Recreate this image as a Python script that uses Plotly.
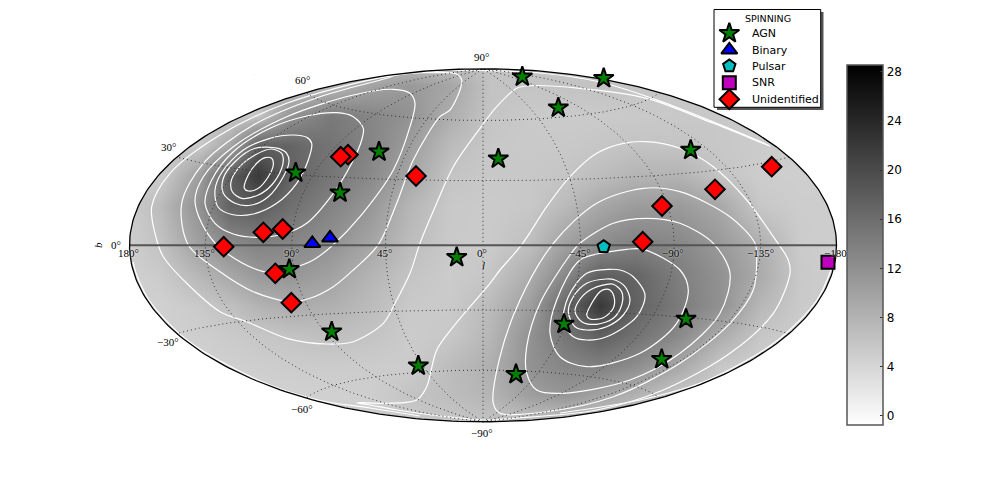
import numpy as np
import plotly.graph_objects as go

# Sources, in the plane of the sky map (axis units of the projected map)
agn_x = [522.3, 603.7, 558.3, 498.3, 690.7, 379, 295.7, 340, 456.7, 289.3, 331.7, 418.3, 516, 564, 686, 661.7]
agn_y = [76.7, 78.3, 107.7, 158.7, 150, 151.7, 172.7, 192.7, 257.3, 269.3, 331.7, 365.7, 374.3, 324, 319, 359.3]
binary_x = [330, 312.3]
binary_y = [238, 243.5]
pulsar_x = [603.7]
pulsar_y = [246.7]
snr_x = [828]
snr_y = [262.3]
unid_x = [348, 340.7, 416, 263.3, 282.7, 223.7, 275.3, 291.3, 771.7, 715, 662, 642.7]
unid_y = [154.7, 156.7, 176, 232.3, 229, 246.7, 273.3, 302.7, 166.7, 189.3, 206, 241.7]

legend_title = "SPINNING"
legend_names = ["AGN", "Binary", "Pulsar", "SNR", "Unidentified"]
legend_rows = [33.3, 50, 66, 82.7, 99.3]

# Background field table
field_x = [120, 160, 200, 230, 258, 290, 330, 370, 410, 450, 490, 530, 565, 600, 635, 680, 720, 760, 800, 840]
field_y = [60, 85, 115, 145, 175, 205, 245, 275, 305, 335, 365, 395, 425]
row_60 = [5, 5, 5, 5, 5.2, 5.4, 5.6, 5.8, 6, 6.1, 6.1, 6, 5.9, 5.7, 5.5, 5.3, 5, 5, 5, 5]
row_85 = [4.6, 4.8, 5, 5.2, 5.5, 6, 7, 9.8, 11, 9.5, 6.2, 6, 6.2, 6.2, 5.9, 5.6, 5.3, 5, 5, 5]
row_115 = [4.5, 4.8, 5, 5.3, 5.9, 11.5, 14.6, 13.2, 11.7, 8.6, 6, 5.4, 5.2, 5.3, 5.4, 5.5, 5.6, 5, 5, 5]
row_145 = [4.5, 4.8, 5.5, 9.5, 17.6, 17, 15.2, 13.4, 10.5, 7, 5.6, 5.4, 5.5, 5.8, 6.1, 6, 5.6, 5.2, 5, 5]
row_175 = [4.5, 5, 10.5, 17.8, 22, 17.3, 15, 12.8, 9.5, 6, 5.5, 5.6, 5.9, 6.8, 7.8, 7.9, 6, 5, 4.8, 4.8]
row_205 = [4.5, 7, 12, 17.3, 18, 15.8, 13.5, 11.3, 7.6, 5.5, 5.3, 5.6, 7.1, 9.3, 10.6, 10.7, 9.2, 5.6, 5, 5]
row_245 = [4.5, 6.2, 10.2, 12.2, 13.4, 13, 11.7, 9.5, 6.8, 5.4, 5.3, 6.7, 10.2, 12.5, 13.8, 13, 11, 8.5, 5.2, 4.8]
row_275 = [4.5, 5.2, 7.6, 9.3, 10.9, 11.3, 10, 7.8, 6, 5.2, 5.8, 8.7, 12.9, 17.6, 17, 14, 11.8, 8.9, 5.5, 4.8]
row_305 = [4.5, 4.6, 5.4, 6.5, 7.9, 8.8, 8.4, 7, 5.4, 5.3, 7.1, 10.4, 16.6, 22, 17.4, 14.3, 11.9, 7.5, 5.3, 5]
row_335 = [4.5, 4.5, 4.9, 5.3, 5.7, 6.1, 6.6, 6.1, 5.2, 5.6, 7.6, 11.8, 15, 17.5, 15.5, 12.6, 8.8, 5.7, 5, 5]
row_365 = [4.5, 4.5, 4.5, 4.7, 4.9, 5.1, 5.2, 5.1, 5.1, 6.9, 8.4, 11.8, 13.2, 13.8, 12.3, 9.2, 5.6, 4.8, 4.8, 4.8]
row_395 = [4.5, 4.5, 4.5, 4.5, 4.5, 4.5, 4.6, 4.8, 6.1, 6.8, 7.8, 10.3, 11.3, 9.6, 8, 5.3, 4.6, 4.6, 4.6, 4.6]
row_425 = [4.5, 4.5, 4.5, 4.5, 4.5, 4.5, 4.6, 4.8, 5.2, 5.5, 5.8, 5.5, 5.3, 5, 4.8, 4.6, 4.6, 4.6, 4.6, 4.6]
field_z = [row_60, row_85, row_115, row_145, row_175, row_205, row_245, row_275, row_305, row_335, row_365, row_395, row_425]

# White contour lines
contours = [
    [(271.7,158.3),(265,157.7),(256.7,163.3),(248.3,175),(244.3,188.3),(248.3,191),(258.3,188.3),(268.3,176.7),(273.3,165),(271.7,158.3)],
    [(281.7,153.3),(271.7,149),(255,155),(238.3,168.3),(231,181.7),(232.3,191.7),(241.7,198.3),(258.3,195),(271.7,185),(281.7,168.3),(283.3,158.3),(281.7,153.3)],
    [(286.7,153.3),(278.3,148.3),(255,148.3),(235,161.7),(223.3,178.3),(223.3,193.3),(235,203.3),(251.7,205),(268.3,196.7),(283.3,176.7),(289,161.7),(286.7,153.3)],
    [(311.7,143.3),(306.7,137.3),(293.3,135),(270,138.3),(243.3,150),(222,172),(215,190),(218,207),(232,214.5),(253.3,214),(276.7,203.3),(296.7,183.3),(308.3,160),(311.7,143.3)],
    [(363.3,128.3),(353.3,116.7),(336.7,112.7),(306.7,116),(270,128.3),(233.3,151.7),(211.7,180),(205,203.3),(215,223.3),(233.3,234),(256.7,237.3),(283.3,234),(306.7,223.3),(333.3,193.3),(351.7,163.3),(361.7,140),(363.3,128.3)],
    [(415,103.3),(410,93.3),(393.3,89.3),(353.3,95),(286.7,116.7),(233.3,146.7),(203.3,176.7),(195,200),(201.7,223.3),(216.7,245),(226.7,253.3),(253.3,268.3),(275,273.3),(290,269.3),(313.3,260),(333.3,244.7),(360,216.7),(393.3,170),(410,126.7),(415,103.3)],
    [(461.7,80),(456.7,74),(433.3,72.7),(400,74),(386.7,78.3),(320,96.7),(253.3,125),(203.3,163.3),(181.7,203.3),(188.3,245),(220,271.7),(253.3,291.7),(290,301.7),(310,298.3),(333.3,286.7),(353.3,270),(378.3,244.7),(396.7,203.3),(413.3,160),(440,116.7),(450,110),(460,90),(461.7,80)],
    [(770,146),(713.3,123.3),(646.7,98.3),(580,88.3),(530,85.7),(516.7,88.3),(496.7,106.7),(480,128.3),(453.3,166.7),(436.7,203.3),(420,243.3),(410,273.3),(395,303.3),(383.3,323.3),(353.3,341.7),(326.7,344),(286.7,338.3),(246.7,321.7),(220,311.7),(186.7,283.3),(163.3,256.7),(156.7,240),(151.7,206.7),(170,173.3),(220,135),(286.7,103.3),(386.7,76.7),(453,70.5),(483,70.5),(540,73),(600,82),(660,101),(713,121.8),(770,146)],
    [(605,289.3),(600,291.7),(591.7,303.3),(586.7,315),(590,319),(603.3,317.7),(613.3,308.3),(614,296.7),(610,290),(605,289.3)],
    [(606.7,284.3),(590,290),(578.3,301.7),(575,311.7),(581.7,321.7),(596.7,324.3),(613.3,318.3),(621.7,305),(621.7,291.7),(613.3,284.3),(606.7,284.3)],
    [(606.7,279),(586.7,283.3),(573.3,296.7),(568.3,311.7),(575,326.7),(586.7,330),(606.7,326.7),(623.3,315),(630,300),(625,286.7),(615,280),(606.7,279)],
    [(610,269.3),(586.7,273.3),(568.3,296.7),(563.3,323.3),(573.3,336.7),(586.7,340),(606.7,336.7),(636.7,316.7),(645,295),(633.3,276.7),(620,270),(610,269.3)],
    [(643.3,249.3),(680,270),(688.3,290),(676.7,323.3),(640,353.3),(586.7,366.7),(560,356.7),(550,333.3),(556.7,300),(580,260),(610,251.7),(626.7,249.3),(643.3,249.3)],
    [(580,243.3),(613.3,223.3),(646.7,218.3),(680,223.3),(713.3,243.3),(730,273.3),(720,313.3),(680,353.3),(630,380),(563.3,393.3),(536.7,390),(526.7,373.3),(526.7,346.7),(540,303.3),(570,255),(580,243.3)],
    [(553.3,243.3),(596.7,203.3),(643.3,188.3),(680,191.7),(730,216.7),(755,243.3),(756.7,260),(753.3,290),(730,323.3),(680,363.3),(613.3,396.7),(546.7,411.7),(500,413.3),(493.3,403.3),(500,356.7),(520,300),(553.3,243.3)],
    [(356.7,402.7),(386.7,403.3),(416.7,400),(426.7,386.7),(436.7,350),(453.3,326.7),(490,283.3),(500,270),(521.7,244.7),(546.7,206.7),(570,176.7),(596.7,153.3),(623.3,143.3),(646.7,141.7),(680,148.3),(713.3,166.7),(746.7,200),(773.3,236.7),(788.3,260),(790,273.3),(773.3,313.3),(730,353.3),(663.3,390),(596.7,410),(513.3,418.3),(483,420),(440,416),(397,410),(370,405),(356.7,402.7)],
    [(133,262),(136,273),(149,300),(187,340),(258,380),(318,400),(370,408),(420,416)],
    [(831,270),(817,300),(778,340),(708,380),(640,400),(560,413)],
]

lon_ticks = [135, 90, 45, 0, -45, -90, -135]
lat_ticks = [60, 30, -30, -60]
lon_label_pos = [(128, 253, "180°"), (204, 253, "135°"), (291, 253, "90°"), (384, 253, "45°"), (482, 253, "0°"),
                 (580, 253, "−45°"), (673, 253, "−90°"), (760, 253, "−135°"), (835, 253, "−180")]
lat_label_pos = [(481, 57, "90°"), (302, 80, "60°"), (168, 147, "30°"), (116, 245, "0°"),
                 (168, 342, "−30°"), (302, 409, "−60°"), (482, 433, "−90°")]

CX, CY, HW, HH = 483.0, 245.3, 353.5, 176.5

def hammer(lon, lat):
    lam, phi = np.radians(lon), np.radians(lat)
    d = np.sqrt(1 + np.cos(phi) * np.cos(lam / 2))
    return CX - HW * np.cos(phi) * np.sin(lam / 2) / d, CY - HH * np.sin(phi) / d

fig = go.Figure()
fig.add_trace(go.Heatmap(
    x=field_x, y=field_y, z=field_z, zsmooth="best", zmin=-0.77, zmax=28.57,
    colorscale=[[0, "#ffffff"], [1, "#000000"]], hoverinfo="skip",
    colorbar=dict(x=847 / 981, xanchor="left", xpad=0, y=1 - 245 / 491, yanchor="middle", ypad=0,
                  thickness=36, thicknessmode="pixels", len=360, lenmode="pixels",
                  tick0=0, dtick=4, ticks="inside", ticklen=3, tickcolor="#333", tickwidth=1,
                  outlinecolor="#555", outlinewidth=1.5,
                  tickfont=dict(family="DejaVu Sans", size=12, color="black")),
))

# white mask outside the map
t = np.linspace(0, 2 * np.pi, 361)
ex = CX + HW * np.cos(t)
ey = CY + HH * np.sin(t)
fig.add_trace(go.Scatter(
    x=[0, 981, 981, 0, 0, float(ex[0])] + ex[::-1].tolist() + [0],
    y=[0, 0, 491, 491, 0, float(ey[0])] + ey[::-1].tolist() + [0],
    mode="lines", fill="toself", fillcolor="white", line=dict(width=0, color="white"),
    showlegend=False, hoverinfo="skip"))

# contours
for c in contours:
    fig.add_trace(go.Scatter(x=[p[0] for p in c], y=[p[1] for p in c], mode="lines",
                             line=dict(color="white", width=1.2, shape="spline", smoothing=0.9),
                             showlegend=False, hoverinfo="skip"))

# graticule
gx, gy = [], []
for lon in lon_ticks:
    la = np.linspace(-90, 90, 181)
    px, py = hammer(lon, la)
    gx += px.tolist() + [None]
    gy += py.tolist() + [None]
for lat in lat_ticks:
    lo = np.linspace(-180, 180, 181)
    px, py = hammer(lo, lat)
    gx += px.tolist() + [None]
    gy += py.tolist() + [None]
fig.add_trace(go.Scatter(x=gx, y=gy, mode="lines", line=dict(color="#333", width=1, dash="1px,3px"),
                         showlegend=False, hoverinfo="skip"))
# equator and boundary
fig.add_trace(go.Scatter(x=[CX - HW, CX + HW], y=[CY, CY], mode="lines", line=dict(color="#555", width=2),
                         showlegend=False, hoverinfo="skip"))
fig.add_trace(go.Scatter(x=ex, y=ey, mode="lines", line=dict(color="black", width=1.3),
                         showlegend=False, hoverinfo="skip"))

styles = {
    "AGN": ("star", "#008000", 15),
    "Binary": ("triangle-up", "#0000ff", 14),
    "Pulsar": ("pentagon", "#00bfbf", 13),
    "SNR": ("square", "#bf00bf", 13),
    "Unidentified": ("diamond", "#ff0000", 15),
}

def source(name, x, y):
    symbol, color, size = styles[name]
    fig.add_trace(go.Scatter(x=x, y=y, mode="markers", name=name, cliponaxis=False, showlegend=False,
                             marker=dict(symbol=symbol, color=color, size=size, line=dict(color="black", width=2))))

source("AGN", agn_x, agn_y)
source("Binary", binary_x, binary_y)
source("Pulsar", pulsar_x, pulsar_y)
source("SNR", snr_x, snr_y)
source("Unidentified", unid_x, unid_y)

# legend panel
fig.add_trace(go.Scatter(x=[717, 823.5, 823.5, 717, 717], y=[12, 12, 110, 110, 12], mode="lines", fill="toself",
                         fillcolor="#555", line=dict(width=0), showlegend=False, hoverinfo="skip"))
fig.add_trace(go.Scatter(x=[714, 820.7, 820.7, 714, 714], y=[9.5, 9.5, 107.3, 107.3, 9.5], mode="lines", fill="toself",
                         fillcolor="white", line=dict(color="black", width=1), showlegend=False, hoverinfo="skip"))
for name, row in zip(legend_names, legend_rows):
    symbol, color, size = styles[name]
    fig.add_trace(go.Scatter(x=[729.3], y=[row], mode="markers", name=name, showlegend=False, hoverinfo="skip",
                             marker=dict(symbol=symbol, color=color, size=size, line=dict(color="black", width=2))))

annotations = []
for x, y, s in lon_label_pos + lat_label_pos:
    annotations.append(dict(x=x, y=y, text=s, showarrow=False, xref="x", yref="y",
                            font=dict(family="Liberation Serif", size=11, color="black", shadow="0 0 2px white")))
annotations.append(dict(x=483, y=265, text="<i>l</i>", showarrow=False,
                        font=dict(family="Liberation Serif", size=11, color="black", shadow="0 0 2px white")))
annotations.append(dict(x=98, y=245, text="<i>b</i>", showarrow=False, textangle=-90,
                        font=dict(family="Liberation Serif", size=11, color="black")))
annotations.append(dict(x=768, y=18, text=legend_title, showarrow=False,
                        font=dict(family="DejaVu Sans", size=9.5, color="black")))
for name, row in zip(legend_names, legend_rows):
    annotations.append(dict(x=750, y=row, text=name, showarrow=False, xanchor="left",
                            font=dict(family="DejaVu Sans", size=11, color="black")))

fig.update_layout(
    width=981, height=491, margin=dict(l=0, r=0, t=0, b=0),
    paper_bgcolor="white", plot_bgcolor="white", showlegend=False,
    xaxis=dict(range=[0, 981], visible=False, domain=[0, 1], fixedrange=True),
    yaxis=dict(range=[491, 0], visible=False, domain=[0, 1], fixedrange=True),
    annotations=annotations,
)
fig.write_html("out.html", config={"displayModeBar": False}, post_script="document.body.style.margin='0';")
